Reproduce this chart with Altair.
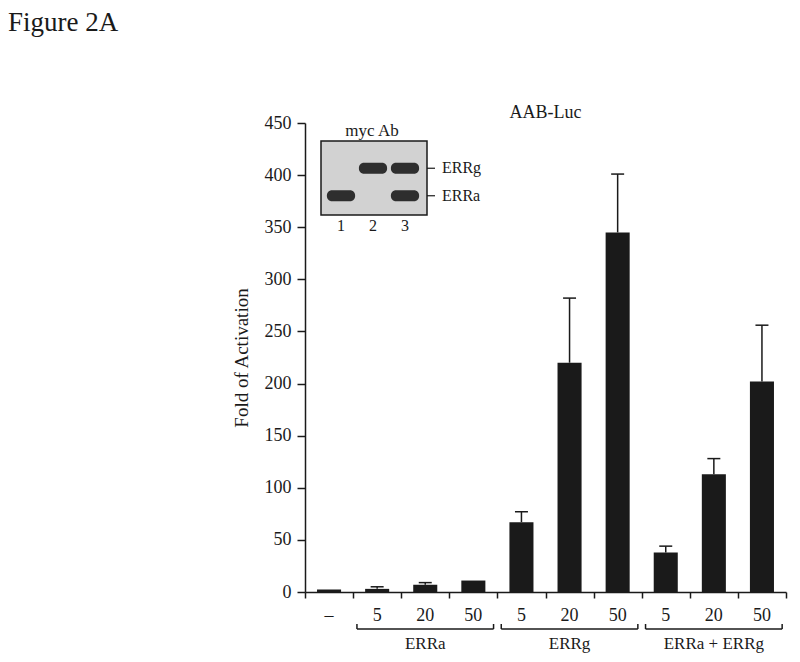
import altair as alt
import pandas as pd

# ---- data ----
categories = ["–", "5", "20", "50", "5", "20", "50", "5", "20", "50"]
values = [2.5, 3, 7, 11, 67, 220, 345, 38, 113, 202]
upper = [2.5, 5, 9, 11, 77, 282, 401, 44, 128, 256]

groups = ["ERRa", "ERRg", "ERRa + ERRg"]
group_start = [1, 4, 7]
group_end = [4, 7, 10]

# inset blot: which protein band appears in which lane
lanes = [1, 2, 3]
lane_proteins = [["ERRa"], ["ERRg"], ["ERRg", "ERRa"]]
proteins = ["ERRg", "ERRa"]

W, H = 481, 469
FONT = "Liberation Serif"
INK = "#1a1a1a"

df = pd.DataFrame({"idx": list(range(len(categories))), "label": categories,
                   "value": values, "upper": upper})
df["x0"] = df["idx"] + 0.25
df["x1"] = df["idx"] + 0.75
df["xc"] = df["idx"] + 0.5
df["c0"] = df["xc"] - 0.135
df["c1"] = df["xc"] + 0.135
err = df[df["upper"] > df["value"]]

gdf = pd.DataFrame({"group": groups, "start": group_start, "end": group_end})
gdf["b0"] = gdf["start"] + 0.08
gdf["b1"] = gdf["end"] - 0.08
gdf["mid"] = (gdf["start"] + gdf["end"]) / 2
ends = pd.DataFrame({"xe": list(gdf["b0"]) + list(gdf["b1"])})

xscale = alt.Scale(domain=[0, 10], nice=False, zero=False)
yscale = alt.Scale(domain=[0, 450], nice=False)

xaxis = alt.Axis(values=list(range(11)), labels=False, ticks=True, tickSize=6,
                 tickColor=INK, domainColor=INK, domainWidth=1.5, tickWidth=1.5,
                 grid=False, title=None)
yaxis = alt.Axis(values=list(range(0, 451, 50)), tickSize=8, tickColor=INK,
                 domainColor=INK, domainWidth=1.5, tickWidth=1.5,
                 labelFont=FONT, labelFontSize=18, labelColor=INK, labelPadding=6,
                 title="Fold of Activation", titleFont=FONT, titleFontSize=19,
                 titleFontWeight="normal", titleColor=INK, titlePadding=13, grid=False)

X = lambda f: alt.X(f, scale=xscale, axis=xaxis)
Y = lambda f: alt.Y(f, scale=yscale, axis=yaxis)

bars = alt.Chart(df).mark_bar(color=INK).encode(
    x=X("x0:Q"), x2="x1:Q", y=Y("value:Q"), y2=alt.datum(0))
errs = alt.Chart(err).mark_rule(color=INK, strokeWidth=1.5).encode(
    x=X("xc:Q"), y=Y("value:Q"), y2="upper:Q")
caps = alt.Chart(err).mark_rule(color=INK, strokeWidth=1.5).encode(
    x=X("c0:Q"), x2="c1:Q", y=Y("upper:Q"))

cat_labels = alt.Chart(df).mark_text(font=FONT, fontSize=18, color=INK, baseline="middle").encode(
    x=X("xc:Q"), y=alt.value(H + 24), text="label:N")
brackets = alt.Chart(gdf).mark_rule(color=INK, strokeWidth=1.5).encode(
    x=X("b0:Q"), x2="b1:Q", y=alt.value(H + 37))
bracket_ends = alt.Chart(ends).mark_rule(color=INK, strokeWidth=1.5).encode(
    x=X("xe:Q"), y=alt.value(H + 32), y2=alt.value(H + 37))
group_labels = alt.Chart(gdf).mark_text(font=FONT, fontSize=17, color=INK, baseline="middle").encode(
    x=X("mid:Q"), y=alt.value(H + 52), text="group:N")

one = pd.DataFrame({"t": ["AAB-Luc"], "f": ["Figure 2A"], "m": ["myc Ab"]})
title = alt.Chart(one).mark_text(font=FONT, fontSize=18, color=INK, baseline="middle").encode(
    x=alt.value(W / 2), y=alt.value(-10), text="t:N")
fig = alt.Chart(one).mark_text(font=FONT, fontSize=27, color=INK, align="left",
                               baseline="alphabetic").encode(
    x=alt.value(-297), y=alt.value(-92), text="f:N")

main = alt.layer(bars, errs, caps, cat_labels, brackets, bracket_ends, group_labels, title, fig)

# ---- inset blot ----
ix = alt.Scale(domain=[0.5, 3.5], range=[20, 116], nice=False, zero=False)
iy = alt.Scale(domain=proteins, range=[37, 81], paddingInner=0.6, paddingOuter=0.1)

band_rows = [{"lane": l, "protein": p} for l, ps in zip(lanes, lane_proteins) for p in ps]
bdf = pd.DataFrame(band_rows)
bdf["l0"] = bdf["lane"] - 0.44
bdf["l1"] = bdf["lane"] + 0.44
ldf = pd.DataFrame({"lane": lanes, "txt": [str(l) for l in lanes]})
pdf = pd.DataFrame({"protein": proteins})

box = alt.Chart(one).mark_rect(fill="#d2d2d2", stroke=INK, strokeWidth=1.5).encode(
    x=alt.value(16), x2=alt.value(122), y=alt.value(18), y2=alt.value(92))
bands = alt.Chart(bdf).mark_rect(color="#202020", cornerRadius=5, opacity=0.92).encode(
    x=alt.X("l0:Q", scale=ix, axis=None), x2="l1:Q",
    y=alt.Y("protein:N", scale=iy, axis=None))
dashes = alt.Chart(pdf).mark_rule(color=INK, strokeWidth=1.2).encode(
    x=alt.value(122), x2=alt.value(130), y=alt.Y("protein:N", scale=iy, axis=None))
plabels = alt.Chart(pdf).mark_text(font=FONT, fontSize=16, color=INK, align="left",
                                   baseline="middle").encode(
    x=alt.value(137), y=alt.Y("protein:N", scale=iy, axis=None), text="protein:N")
lane_nums = alt.Chart(ldf).mark_text(font=FONT, fontSize=16, color=INK, baseline="middle").encode(
    x=alt.X("lane:Q", scale=ix, axis=None), y=alt.value(103), text="txt:N")
myc = alt.Chart(one).mark_text(font=FONT, fontSize=17, color=INK, baseline="middle").encode(
    x=alt.value(67), y=alt.value(8), text="m:N")

inset = alt.layer(box, bands, dashes, plabels, lane_nums, myc)

chart = alt.layer(main, inset).resolve_scale(x="independent", y="independent").properties(
    width=W, height=H, autosize="none",
    padding={"left": 297, "top": 115, "right": 4, "bottom": 61},
    background="white",
).configure_view(stroke=None)

chart.save("out.html", embed_options={"renderer": "svg", "actions": False})
